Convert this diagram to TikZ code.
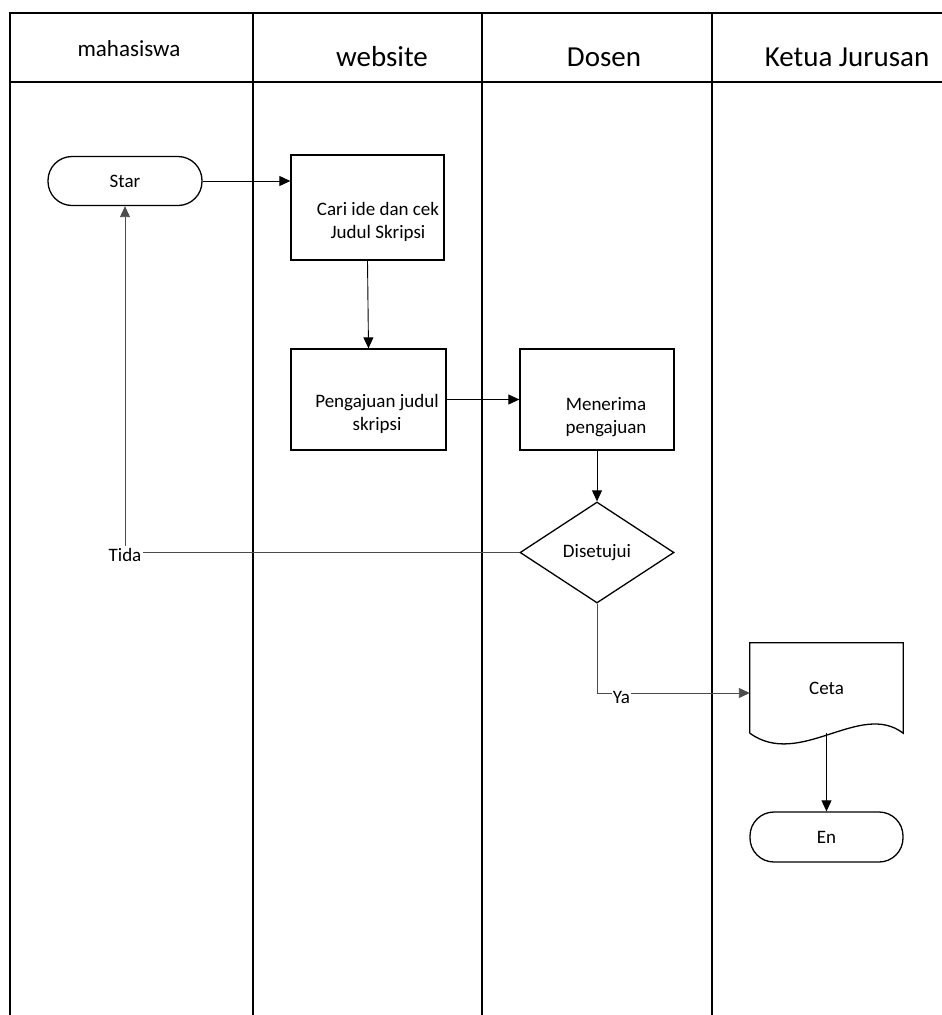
\documentclass[tikz,border=0pt]{standalone}
\usepackage{fontspec}
\setmainfont{Carlito}
\usetikzlibrary{shapes.geometric,arrows.meta}

\begin{document}
\begin{tikzpicture}[x=1pt,y=-1pt]
      \tikzstyle{lajur}=[line width=2pt]
      \tikzstyle{judul}=[font=\fontsize{29}{34}\selectfont]
      \tikzstyle{teks}=[align=center,font=\fontsize{19}{23}\selectfont]
      \tikzstyle{proses}=[rectangle,draw,line width=1.3pt,minimum width=154pt,minimum height=101pt]
      \tikzstyle{terminal}=[rectangle,draw,line width=1.3pt,rounded corners=24pt,minimum width=154pt,minimum height=49pt,teks]
      \tikzstyle{keputusan}=[diamond,draw,line width=1.3pt,inner sep=0pt,minimum width=154pt,minimum height=101pt,teks]
      \tikzstyle{panah}=[-{Triangle[length=11pt,width=10pt]},line width=0.9pt]
      \tikzstyle{garis}=[line width=0.7pt,draw=black!70]
      \useasboundingbox (0,0) rectangle (942,1015);
      % lajur
      \draw[lajur] (10,1015) -- (10,13) -- (942,13);
      \draw[lajur] (10,82) -- (942,82);
      \foreach \x in {253,482,712}
        \draw[lajur] (\x,13) -- (\x,1015);
      \node[font=\fontsize{23}{27}\selectfont] (mhs) at (129,49) {mahasiswa};
      \node[judul] (web) at (382,57) {website};
      \node[judul] (dsn) at (604,57) {Dosen};
      \node[judul] (kajur) at (847,57) {Ketua Jurusan};
      % simbol
      \node[terminal] (star) at (125,181) {Star};
      \node[proses,minimum width=153pt,minimum height=105pt] (cari) at (367.5,207.5) {};
      \node[teks] (caritxt) at (378,222) {Cari ide dan cek\\Judul Skripsi};
      \node[proses,minimum width=155pt] (aju) at (368.5,399.5) {};
      \node[teks] (ajutxt) at (377,414) {Pengajuan judul\\skripsi};
      \node[proses] (terima) at (597,399.5) {};
      \node[teks] (terimatxt) at (606,417) {Menerima\\pengajuan};
      \node[keputusan] (setuju) at (597,552.5) {\raisebox{-4pt}{Disetujui}};
      \node[minimum width=153pt,minimum height=90pt,inner sep=0pt,teks] (ceta) at (826.5,688) {Ceta};
      \draw[line width=1.3pt] (ceta.south west) -- (ceta.north west) -- (ceta.north east) -- (ceta.south east)
        .. controls +(-43,-33) and +(50,36) .. (ceta.south west);
      \node[terminal,minimum width=153pt,minimum height=50pt] (en) at (826.5,837) {En};
      % alur
      \draw[panah] (star.east) -- (star.east -| cari.west);
      \draw[panah] (cari.south) -- (aju.north);
      \draw[panah] (aju.east) -- (terima.west);
      \draw[panah] (terima.south) -- (setuju.north);
      \draw[garis,panah] (setuju.west) -| node[fill=white,inner sep=2pt,teks,yshift=-2pt] {Tida} (star.south);
      \draw[garis,panah] (setuju.south) |- node[pos=0.58,fill=white,inner sep=1pt,teks,yshift=-4pt] {Ya} ([yshift=-5pt]ceta.west);
      \draw[panah] (ceta.south) -- (en.north);
\end{tikzpicture}
\end{document}
